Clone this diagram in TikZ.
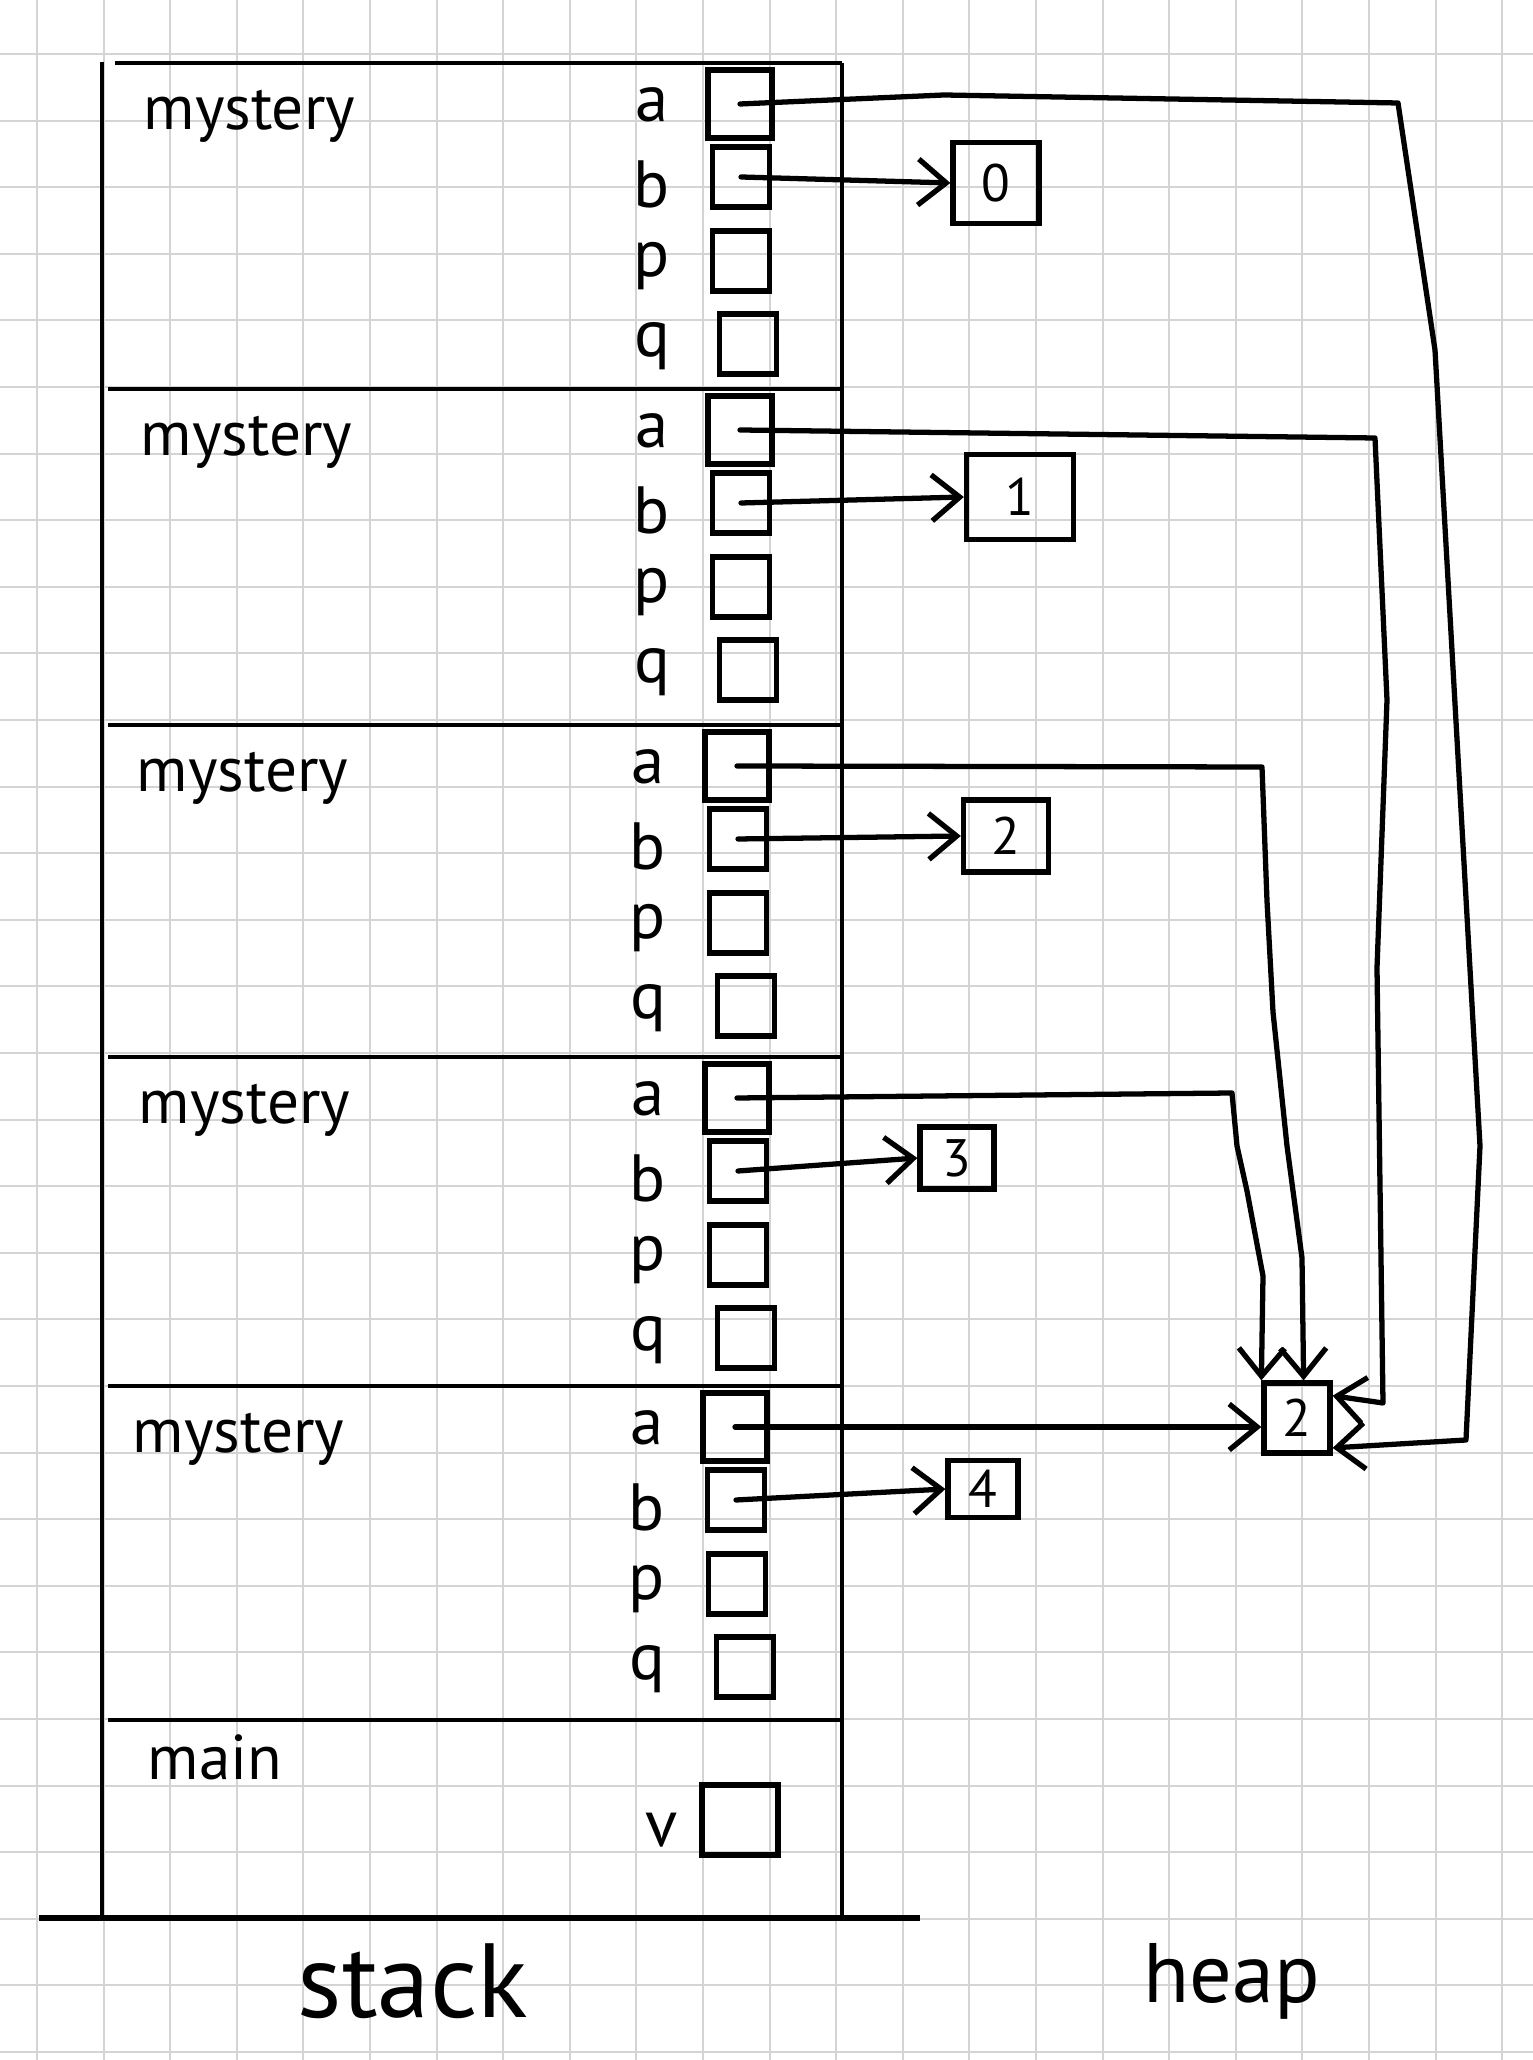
\documentclass[tikz,border=0pt]{standalone}
\usepackage{fontspec}
\setmainfont{PT Sans}
\usetikzlibrary{arrows.meta}

\begin{document}
\begin{tikzpicture}[
  gridline/.style={black!17, line width=0.6pt},
  wall/.style={line width=1.4pt},
  fname/.style={font=\fontsize{18}{18}\selectfont, inner sep=0pt, anchor=base west},
  vname/.style={font=\fontsize{19}{19}\selectfont, inner sep=0pt, anchor=base},
  slot/.style={draw, line width=1.5pt, minimum width=0.57cm, minimum height=0.6cm, inner sep=0pt},
  aslot/.style={slot, minimum width=0.64cm, minimum height=0.68cm},
  cell/.style={draw, line width=1.5pt, inner sep=0pt, font=\fontsize{15}{15}\selectfont},
  ptr/.style={line width=1.5pt, line join=round, line cap=round, -{Straight Barb[length=0.28cm,width=0.46cm]}}
]
\useasboundingbox (0,0) rectangle (15.33,20.60);
\fill[white] (0,0) rectangle (15.33,20.60);
\draw[gridline, step=0.666, shift={(0.37,0.08)}] (-0.37,-0.08) grid (14.96,20.52);

% stack outline
\draw[wall] (1.02,19.98) -- (1.02,1.42);
\draw[wall] (8.42,19.97) -- (8.42,1.42);
\draw[wall] (1.15,19.97) -- (8.42,19.97);
\draw[wall] (1.08,16.71) -- (8.42,16.71);
\draw[wall] (1.08,13.35) -- (8.42,13.35);
\draw[wall] (1.08,10.03) -- (8.42,10.03);
\draw[wall] (1.08,6.74) -- (8.42,6.74);
\draw[wall] (1.08,3.40) -- (8.42,3.40);
\draw[line width=1.7pt] (0.39,1.42) -- (9.20,1.42);

% frame 1
\node[fname] (f1) at (1.43,19.30) {mystery};
\node[vname] (la1) at (6.52,19.38) {a};
\node[vname] (lb1) at (6.52,18.52) {b};
\node[vname] (lp1) at (6.52,17.83) {p};
\node[vname] (lq1) at (6.52,17.03) {q};
\node[aslot] (a1) at (7.40,19.56) {};
\node[slot] (b1) at (7.41,18.83) {};
\node[slot] (p1) at (7.41,17.99) {};
\node[slot] (q1) at (7.48,17.16) {};

% frame 2
\node[fname] (f2) at (1.40,16.04) {mystery};
\node[vname] (la2) at (6.52,16.12) {a};
\node[vname] (lb2) at (6.52,15.26) {b};
\node[vname] (lp2) at (6.52,14.57) {p};
\node[vname] (lq2) at (6.52,13.77) {q};
\node[aslot] (a2) at (7.40,16.30) {};
\node[slot] (b2) at (7.41,15.57) {};
\node[slot] (p2) at (7.41,14.73) {};
\node[slot] (q2) at (7.48,13.90) {};

% frame 3
\node[fname] (f3) at (1.36,12.68) {mystery};
\node[vname] (la3) at (6.48,12.76) {a};
\node[vname] (lb3) at (6.48,11.90) {b};
\node[vname] (lp3) at (6.48,11.21) {p};
\node[vname] (lq3) at (6.48,10.41) {q};
\node[aslot] (a3) at (7.37,12.94) {};
\node[slot] (b3) at (7.38,12.21) {};
\node[slot] (p3) at (7.38,11.37) {};
\node[slot] (q3) at (7.46,10.54) {};

% frame 4
\node[fname] (f4) at (1.38,9.36) {mystery};
\node[vname] (la4) at (6.48,9.44) {a};
\node[vname] (lb4) at (6.48,8.58) {b};
\node[vname] (lp4) at (6.48,7.89) {p};
\node[vname] (lq4) at (6.48,7.09) {q};
\node[aslot] (a4) at (7.37,9.62) {};
\node[slot] (b4) at (7.38,8.89) {};
\node[slot] (p4) at (7.38,8.05) {};
\node[slot] (q4) at (7.46,7.22) {};

% frame 5
\node[fname] (f5) at (1.32,6.07) {mystery};
\node[vname] (la5) at (6.47,6.15) {a};
\node[vname] (lb5) at (6.47,5.29) {b};
\node[vname] (lp5) at (6.47,4.60) {p};
\node[vname] (lq5) at (6.47,3.80) {q};
\node[aslot] (a5) at (7.35,6.33) {};
\node[slot] (b5) at (7.36,5.60) {};
\node[slot] (p5) at (7.37,4.76) {};
\node[slot] (q5) at (7.45,3.93) {};

% main
\node[fname] (fm) at (1.47,2.80) {main};
\node[vname] (lv) at (6.62,2.13) {v};
\node[slot, minimum width=0.76cm, minimum height=0.70cm] (v) at (7.40,2.40) {};

% heap
\node[cell, minimum width=0.86cm, minimum height=0.81cm] (h0) at (9.96,18.77) {0};
\node[cell, minimum width=1.07cm, minimum height=0.85cm] (h1) at (10.20,15.63) {1};
\node[cell, minimum width=0.85cm, minimum height=0.72cm] (h2) at (10.06,12.24) {2};
\node[cell, minimum width=0.74cm, minimum height=0.62cm] (h3) at (9.57,9.02) {3};
\node[cell, minimum width=0.70cm, minimum height=0.57cm] (h4) at (9.83,5.71) {4};
\node[cell, minimum width=0.66cm, minimum height=0.70cm] (hs) at (12.97,6.42) {2};

% pointers from b
\draw[ptr] (b1.center) -- (h0.west);
\draw[ptr] (b2.center) -- (h1.west);
\draw[ptr] (b3.center) -- (h2.west);
\draw[ptr] (b4.center) -- (h3.west);
\draw[ptr] (b5.center) -- (h4.west);

% pointers from a
\draw[ptr] (a1.center) -- (9.44,19.65) -- (13.98,19.57) -- (14.35,17.10) -- (14.80,9.14) -- (14.66,6.20) -- (hs.-40);
\draw[ptr] (a2.center) -- (13.75,16.22) -- (13.87,13.60) -- (13.77,10.92) -- (13.83,6.57) -- (hs.32);
\draw[ptr] (a3.center) -- (12.62,12.93) -- (12.67,11.59) -- (12.73,10.48) -- (12.87,9.14) -- (13.02,8.02) -- (hs.80);
\draw[ptr] (a4.center) -- (12.32,9.67) -- (12.37,9.14) -- (12.47,8.69) -- (12.63,7.84) -- (hs.north west);
\draw[ptr] (a5.center) -- (a5.center -| hs.west);

\node[font=\fontsize{30}{30}\selectfont, inner sep=0pt, anchor=base] (stk) at (4.13,0.43) {stack};
\node[font=\fontsize{24}{24}\selectfont, inner sep=0pt, anchor=base] (hp) at (12.32,0.57) {heap};
\end{tikzpicture}
\end{document}
